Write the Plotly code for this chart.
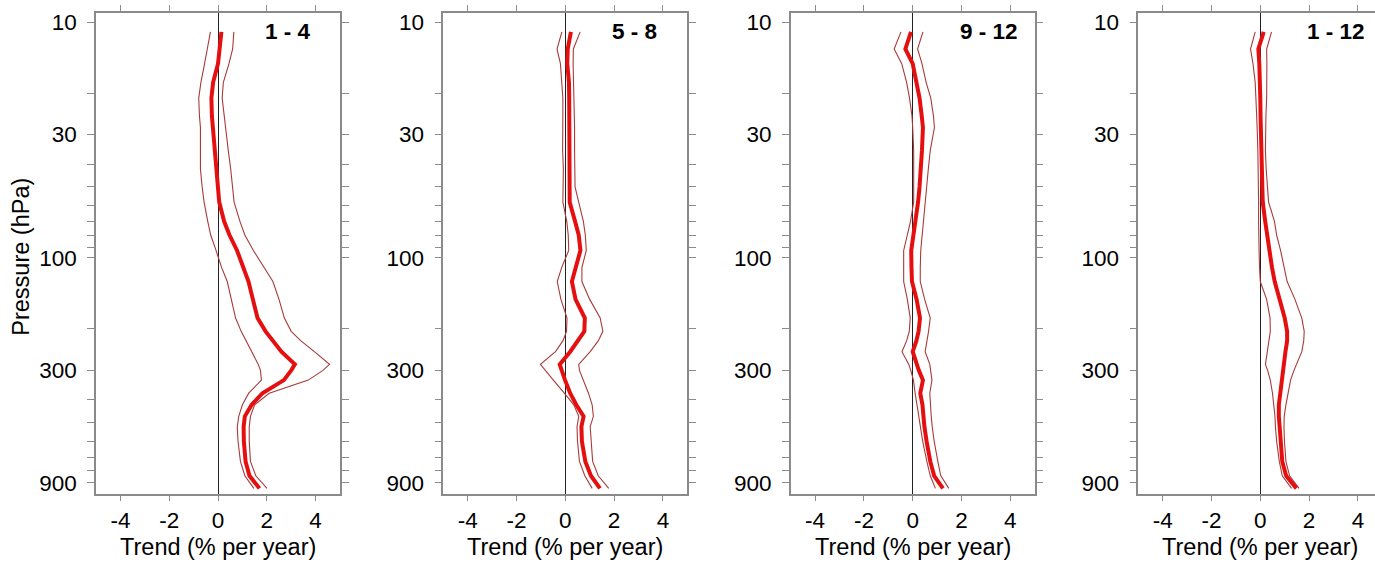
import math
import plotly.graph_objects as go

# Pressure levels (hPa)
pressure = [11, 13, 15, 18, 21, 25, 28, 35, 42, 50, 58, 70, 80, 93, 110, 126, 150,
            180, 205, 225, 250, 283, 300, 330, 375, 420, 470, 520, 600, 730, 840, 950]

panel_labels = ["1 - 4", "5 - 8", "9 - 12", "1 - 12"]

# Panel 1 (months 1-4)
trend_1_4 = [0.14, 0.06, 0.0, -0.2, -0.27, -0.25, -0.21, -0.1, -0.05, 0.0, 0.05, 0.25, 0.47, 0.78, 1.06, 1.25,
             1.43, 1.62, 1.95, 2.25, 2.6, 3.15, 3.0, 2.7, 1.82, 1.38, 1.1, 1.05, 1.06, 1.13, 1.29, 1.70]
low_1_4 = [-0.31, -0.43, -0.55, -0.70, -0.79, -0.76, -0.72, -0.72, -0.72, -0.65, -0.57, -0.42, -0.30, -0.08, 0.15,
           0.38, 0.55, 0.72, 0.95, 1.15, 1.4, 1.65, 1.74, 1.78, 1.26, 1.0, 0.85, 0.79, 0.82, 0.92, 1.1, 1.47]
high_1_4 = [0.65, 0.60, 0.45, 0.22, 0.17, 0.25, 0.31, 0.42, 0.52, 0.58, 0.66, 0.9, 1.1, 1.45, 1.9, 2.25,
            2.5, 2.72, 3.0, 3.4, 3.95, 4.57, 4.3, 3.7, 2.1, 1.5, 1.33, 1.28, 1.28, 1.33, 1.55, 2.01]

# Panel 2 (months 5-8)
trend_5_8 = [0.23, 0.1, 0.08, 0.15, 0.16, 0.16, 0.15, 0.14, 0.14, 0.14, 0.18, 0.40, 0.55, 0.62, 0.42, 0.27,
             0.42, 0.80, 0.78, 0.5, 0.2, -0.23, -0.15, -0.01, 0.2, 0.45, 0.75, 0.66, 0.68, 0.82, 1.05, 1.42]
low_5_8 = [-0.14, -0.34, -0.2, -0.13, -0.1, -0.1, -0.11, -0.11, -0.08, -0.08, -0.1, 0.06, 0.12, 0.14, -0.15, -0.33,
           -0.18, 0.07, 0.05, -0.1, -0.4, -1.02, -0.83, -0.49, -0.04, 0.35, 0.55, 0.48, 0.5, 0.58, 0.8, 1.1]
high_5_8 = [0.61, 0.33, 0.32, 0.34, 0.36, 0.38, 0.38, 0.38, 0.38, 0.40, 0.55, 0.74, 0.82, 0.86, 0.68, 0.68,
            1.0, 1.43, 1.54, 1.35, 1.02, 0.55, 0.58, 0.75, 0.95, 1.1, 1.15, 1.02, 1.05, 1.12, 1.35, 1.78]

# Panel 3 (months 9-12)
trend_9_12 = [-0.07, -0.30, 0.0, 0.17, 0.28, 0.37, 0.42, 0.38, 0.34, 0.28, 0.22, 0.12, 0.05, -0.06, -0.05, -0.03,
              0.16, 0.3, 0.24, 0.15, 0.0, 0.15, 0.25, 0.42, 0.31, 0.4, 0.44, 0.48, 0.57, 0.72, 0.88, 1.24]
low_9_12 = [-0.48, -0.76, -0.45, -0.25, -0.13, -0.03, 0.0, 0.04, 0.04, 0.04, 0.04, -0.09, -0.22, -0.37, -0.37, -0.37,
            -0.22, -0.1, -0.14, -0.25, -0.44, -0.16, -0.08, 0.03, 0.1, 0.18, 0.26, 0.32, 0.41, 0.58, 0.72, 0.93]
high_9_12 = [0.42, 0.2, 0.38, 0.55, 0.74, 0.85, 0.89, 0.72, 0.64, 0.57, 0.51, 0.45, 0.41, 0.33, 0.31, 0.31,
             0.49, 0.72, 0.65, 0.57, 0.51, 0.7, 0.74, 0.79, 0.7, 0.72, 0.76, 0.8, 0.88, 1.03, 1.15, 1.48]

# Panel 4 (months 1-12)
trend_1_12 = [0.14, -0.08, -0.04, 0.0, 0.0, 0.01, 0.02, 0.04, 0.05, 0.07, 0.1, 0.2, 0.28, 0.34, 0.48, 0.59,
              0.8, 1.0, 1.1, 1.1, 1.03, 0.96, 0.92, 0.87, 0.81, 0.76, 0.76, 0.79, 0.83, 0.9, 1.06, 1.48]
low_1_12 = [-0.21, -0.4, -0.3, -0.21, -0.18, -0.14, -0.13, -0.1, -0.08, -0.07, -0.07, -0.07, -0.07, -0.05, -0.03, 0.0,
            0.26, 0.4, 0.41, 0.36, 0.28, 0.21, 0.3, 0.41, 0.5, 0.56, 0.6, 0.62, 0.67, 0.78, 0.9, 1.28]
high_1_12 = [0.46, 0.26, 0.27, 0.28, 0.26, 0.23, 0.22, 0.21, 0.24, 0.28, 0.34, 0.58, 0.67, 0.83, 0.98, 1.1,
             1.42, 1.7, 1.8, 1.78, 1.7, 1.47, 1.38, 1.24, 1.13, 1.05, 0.98, 0.97, 0.99, 1.05, 1.2, 1.59]

y_tickvals = [10, 20, 30, 40, 50, 60, 70, 80, 90, 100, 200, 300, 400, 500, 600, 700, 800, 900]
y_labelled = [10, 30, 100, 300, 900]
x_tickvals = [-4, -2, 0, 2, 4]
x_ticktext = ["-4", "-2", "0", "2", "4"]

panels = [
    (trend_1_4, low_1_4, high_1_4),
    (trend_5_8, low_5_8, high_5_8),
    (trend_9_12, low_9_12, high_9_12),
    (trend_1_12, low_1_12, high_1_12),
]

W, H = 1375, 565
FONT = "Liberation Sans, Arial, sans-serif"
FRAME = "#8a8a8a"
THIN = "#a83a3a"
THICK = "#e60f0f"

fig = go.Figure()
left_px = [96, 443.3, 790.7, 1138.3]
unit_px = 24.4
plot_top, plot_bot = 10, 495

for i, (mid, lo, hi) in enumerate(panels):
    n = "" if i == 0 else str(i + 1)
    xa, ya = "x" + n, "y" + n
    for series, col, wd in [(lo, THIN, 1.1), (hi, THIN, 1.1), (mid, THICK, 4)]:
        fig.add_trace(go.Scatter(x=series, y=pressure, mode="lines",
                                 line=dict(color=col, width=wd),
                                 xaxis=xa, yaxis=ya, showlegend=False, hoverinfo="skip"))
    x0 = left_px[i]
    x1 = min(x0 + 10 * unit_px, W)
    xmax = -5 + (x1 - x0) / unit_px
    last = (i == 3)
    fig.layout["xaxis" + n] = dict(
        domain=[x0 / W, x1 / W], range=[-5, xmax], anchor=ya,
        tickvals=x_tickvals, ticktext=x_ticktext,
        ticks="outside", ticklen=6, tickcolor=FRAME, tickwidth=1,
        showline=True, linecolor=FRAME, linewidth=1.5, mirror="ticks",
        showgrid=False, zeroline=True, zerolinecolor="#222222", zerolinewidth=1,
        tickfont=dict(family=FONT, size=22.5, color="black"),
    )
    fig.layout["yaxis" + n] = dict(
        domain=[1 - plot_bot / H, 1 - plot_top / H], anchor=xa, side="left",
        type="log", range=[3.0, math.log10(9.14)], autorange=False,
        tickvals=y_tickvals,
        ticktext=[str(v) if v in y_labelled else "" for v in y_tickvals],
        ticks="outside", ticklen=7, tickcolor=FRAME, tickwidth=1,
        ticklabelstandoff=6,
        showline=True, linecolor=FRAME, linewidth=1.5,
        mirror=False if last else "ticks",
        showgrid=False, zeroline=False,
        tickfont=dict(family=FONT, size=22.5, color="black"),
    )
    fig.add_annotation(xref=xa, yref=ya, x=1.85, y=math.log10(11.0), text="<b>%s</b>" % panel_labels[i],
                       showarrow=False, xanchor="left", yanchor="middle",
                       font=dict(family=FONT, size=22.5, color="black"))
    fig.add_annotation(xref=xa, yref="paper", x=0, y=1 - 549 / H, text="Trend (% per year)",
                       showarrow=False, xanchor="center", yanchor="middle",
                       font=dict(family=FONT, size=23.5, color="black"))

fig.add_annotation(xref="paper", yref="paper", x=21 / W, y=1 - 256 / H, text="Pressure (hPa)",
                   textangle=-90, showarrow=False, xanchor="center", yanchor="middle",
                   font=dict(family=FONT, size=23.5, color="black"))

fig.update_layout(width=W, height=H, margin=dict(l=0, r=0, t=0, b=0),
                  paper_bgcolor="white", plot_bgcolor="white", showlegend=False)

fig.write_html("out.html")
